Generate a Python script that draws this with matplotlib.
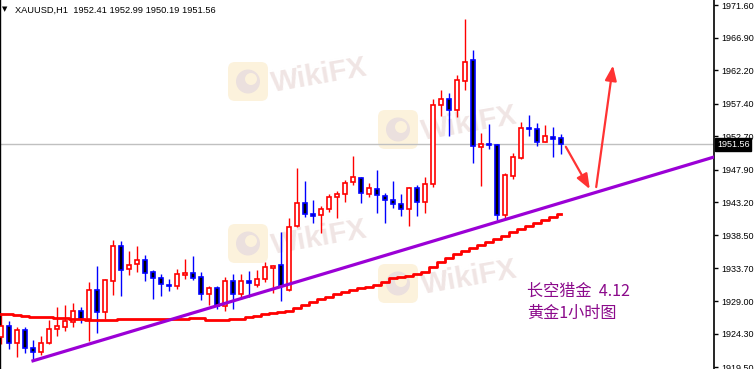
import numpy as np
import matplotlib
matplotlib.use('Agg')
import matplotlib.pyplot as plt
import matplotlib.transforms as mtransforms
from matplotlib.patches import FancyBboxPatch, Circle

# hourly candles, XAUUSD H1 (open, high, low, close)
opens = [1923.8, 1925.4, 1923.0, 1924.8, 1922.2, 1921.7, 1923.0, 1925.0, 1925.3, 1926.0,
         1927.6, 1926.4, 1930.6, 1927.4, 1931.9, 1936.9, 1933.6, 1934.3, 1934.9, 1933.2,
         1932.3, 1931.3, 1931.2, 1932.7, 1933.0, 1932.5, 1930.0, 1930.9, 1928.3, 1931.9,
         1930.0, 1931.9, 1931.3, 1932.2, 1933.8, 1934.2, 1930.6, 1939.8, 1943.1, 1941.5,
         1941.4, 1942.2, 1944.0, 1944.4, 1946.1, 1946.7, 1944.4, 1945.1, 1944.1, 1943.5,
         1943.0, 1942.2, 1945.3, 1943.3, 1945.8, 1957.2, 1958.1, 1956.5, 1960.7, 1963.7,
         1951.2, 1951.6, 1951.5, 1941.4, 1947.0, 1949.6, 1953.9, 1953.8, 1951.9, 1952.6,
         1952.41]
highs = [1927.3, 1926.1, 1925.3, 1925.3, 1923.4, 1924.0, 1926.3, 1928.1, 1928.4, 1928.7,
         1928.1, 1931.7, 1934.0, 1932.2, 1937.8, 1937.6, 1936.2, 1936.9, 1935.6, 1933.5,
         1932.9, 1932.2, 1933.6, 1935.1, 1935.5, 1933.2, 1931.2, 1931.2, 1932.5, 1932.9,
         1932.9, 1933.3, 1933.5, 1934.6, 1934.2, 1938.9, 1940.9, 1948.1, 1946.3, 1943.5,
         1942.7, 1944.4, 1944.8, 1946.4, 1949.9, 1946.9, 1946.0, 1947.9, 1944.5, 1946.3,
         1944.4, 1945.4, 1945.7, 1946.9, 1958.1, 1959.4, 1958.9, 1961.5, 1969.6, 1965.1,
         1953.2, 1954.5, 1951.6, 1947.4, 1950.3, 1954.8, 1955.8, 1954.6, 1954.3, 1954.1,
         1952.99]
lows = [1922.8, 1922.1, 1921.0, 1921.5, 1920.5, 1921.2, 1922.8, 1924.0, 1924.7, 1925.3,
        1925.8, 1923.2, 1924.4, 1926.4, 1929.9, 1929.7, 1932.7, 1933.2, 1931.9, 1929.3,
        1929.7, 1930.4, 1930.7, 1932.2, 1932.0, 1929.2, 1928.4, 1927.9, 1927.6, 1927.9,
        1929.3, 1929.6, 1931.0, 1931.7, 1930.2, 1929.0, 1930.4, 1939.7, 1941.1, 1940.2,
        1938.8, 1941.8, 1940.9, 1943.3, 1945.7, 1943.1, 1944.0, 1941.7, 1940.2, 1942.4,
        1941.2, 1939.8, 1941.2, 1941.7, 1945.4, 1955.6, 1952.8, 1955.5, 1959.4, 1948.9,
        1945.6, 1950.9, 1940.7, 1940.8, 1946.6, 1949.4, 1952.8, 1951.3, 1951.9, 1949.7,
        1950.19]
closes = [1925.4, 1923.0, 1924.8, 1922.2, 1921.7, 1923.0, 1925.0, 1925.4, 1926.1, 1927.6,
          1926.4, 1930.6, 1927.4, 1932.0, 1936.9, 1933.5, 1934.2, 1934.9, 1933.0, 1932.3,
          1931.5, 1931.2, 1932.9, 1933.0, 1932.3, 1930.0, 1930.9, 1928.3, 1931.9, 1930.0,
          1931.9, 1931.6, 1932.2, 1933.9, 1934.0, 1931.2, 1939.7, 1943.1, 1941.5, 1941.2,
          1942.2, 1944.0, 1944.4, 1946.0, 1946.9, 1944.5, 1945.3, 1944.3, 1943.5, 1943.0,
          1942.2, 1945.3, 1943.3, 1945.8, 1957.2, 1958.1, 1956.5, 1960.8, 1963.4, 1951.3,
          1951.6, 1951.5, 1941.4, 1947.1, 1949.7, 1953.9, 1953.8, 1951.9, 1952.8, 1952.3,
          1951.56]

# red moving average, one value per candle
ma = [1927.1, 1927.1, 1927.0, 1926.9, 1926.7, 1926.7, 1926.7, 1926.6, 1926.6, 1926.4,
      1926.4, 1926.3, 1926.3, 1926.3, 1926.3, 1926.4, 1926.4, 1926.4, 1926.4, 1926.4,
      1926.4, 1926.4, 1926.4, 1926.4, 1926.6, 1926.6, 1926.3, 1926.3, 1926.3, 1926.4,
      1926.4, 1926.7, 1926.9, 1927.1, 1927.3, 1927.4, 1927.6, 1928.0, 1928.4, 1928.9,
      1929.3, 1929.6, 1930.0, 1930.3, 1930.6, 1930.9, 1931.0, 1931.3, 1931.7, 1932.3,
      1932.5, 1932.6, 1932.9, 1933.2, 1933.9, 1934.6, 1935.2, 1935.8, 1936.2, 1936.6,
      1937.1, 1937.5, 1937.9, 1938.4, 1939.0, 1939.4, 1939.8, 1940.2, 1940.7, 1941.1,
      1941.5]

# purple support line (candle index, price)
trend_x = [4, 89.2]
trend_y = [1920.4, 1949.75]

# the two red arrows (candle index, price)
arrow1 = [(70.6, 1951.2), (73.6, 1945.1)]
arrow2 = [(74.4, 1945.4), (76.5, 1962.9)]

ytick_vals = [1971.60, 1966.90, 1962.20, 1957.40, 1952.70, 1947.90,
              1943.20, 1938.50, 1933.70, 1929.00, 1924.30, 1919.50]
last_price = 1951.56
title = 'XAUUSD,H1  1952.41 1952.99 1950.19 1951.56'
note_lines = ['长空猎金  4.12', '黄金1小时图']

W, H = 754, 369
plt.rcParams['font.family'] = ['Liberation Sans', 'DejaVu Sans']

fig = plt.figure(figsize=(W / 100, H / 100), dpi=100)
ax = fig.add_axes([0, 0, 714 / W, 1])
ax.patch.set_alpha(0)
ax.set_xlim(-0.125, 89.125)
ax.set_ylim(1919.22, 1972.32)


def watermark(px, py):
    # px, py: top-left of the logo square in image pixels
    pix = mtransforms.IdentityTransform()
    box = FancyBboxPatch((px, H - py - 39), 40, 39,
                         boxstyle='round,pad=0,rounding_size=7',
                         fc='#fcf2dc', ec='none', transform=pix, zorder=-3)
    fig.add_artist(box)
    fig.add_artist(Circle((px + 20, H - py - 19.5), 12, fc='#ebe0de', ec='none',
                          transform=pix, zorder=-2))
    fig.add_artist(Circle((px + 23, H - py - 17), 6, fc='#fcf2dc', ec='none',
                          transform=pix, zorder=-2))
    fig.text((px + 46) / W, 1 - (py + 36) / H, 'WikiFX', ha='left', va='bottom',
             fontsize=21, fontweight='bold', color='#f0e5e4', rotation=10,
             rotation_mode='anchor', zorder=-2)


# faint watermarks behind everything
for wx, wy in [(228, 62), (378, 110), (228, 224), (378, 264)]:
    watermark(wx, wy)

ax.axhline(last_price, color='#c0c0c0', lw=1, zorder=1)

x = np.arange(len(opens))
o = np.array(opens)
c = np.array(closes)
h = np.array(highs)
l = np.array(lows)
up = c >= o

# wicks
ax.vlines(x[up], l[up], h[up], color='#ff0000', lw=1, zorder=2)
ax.vlines(x[~up], l[~up], h[~up], color='#0000ff', lw=1, zorder=2)

# bodies
body_w = 0.56
bottoms = np.minimum(o, c)
heights = np.maximum(np.abs(c - o), 0.08)
ax.bar(x[up], heights[up], body_w, bottom=bottoms[up], color='white',
       edgecolor='#ff0000', linewidth=1.2, zorder=3)
ax.bar(x[~up], heights[~up], body_w, bottom=bottoms[~up], color='black',
       edgecolor='#0000ff', linewidth=1.2, zorder=3)

ax.plot(x, ma, color='#ff0000', lw=2.0, zorder=4, drawstyle='steps-mid')
ax.plot(trend_x, trend_y, color='#9b00d6', lw=2.3, zorder=4)

for (x0, y0), (x1, y1) in [arrow1, arrow2]:
    ax.annotate('', xy=(x1, y1), xytext=(x0, y0),
                arrowprops=dict(arrowstyle='-|>,head_length=0.9,head_width=0.35',
                                color='#ff3333', lw=1.6, shrinkA=0, shrinkB=0),
                zorder=5)

ax.text(15 / 714, 0.985, title, transform=ax.transAxes, ha='left', va='top',
        fontsize=6.7, color='black')
ax.text(2 / 714, 0.983, '▼', transform=ax.transAxes, ha='left', va='top',
        fontsize=5, color='black', family='DejaVu Sans')

ax.text(527 / 714, 0.210, note_lines[0], transform=ax.transAxes, ha='left', va='center',
        fontsize=11.6, color='#8b0a8b', family=['Noto Sans CJK SC', 'DejaVu Sans'])
ax.text(527 / 714, 0.150, note_lines[1], transform=ax.transAxes, ha='left', va='center',
        fontsize=11.6, color='#8b0a8b', family=['Noto Sans CJK SC', 'DejaVu Sans'])

# right price scale
ax.yaxis.tick_right()
ax.set_yticks(ytick_vals)
ax.set_yticklabels(['%.2f' % v for v in ytick_vals])
ax.tick_params(axis='y', direction='out', length=3, width=1, pad=2,
               labelsize=6.5, colors='black')
ax.set_xticks([])
for side in ['top', 'bottom']:
    ax.spines[side].set_visible(False)
ax.spines['right'].set_linewidth(1.2)
ax.spines['left'].set_linewidth(1.0)

trans = mtransforms.blended_transform_factory(ax.transAxes, ax.transData)
ax.text(1.004, last_price, '%.2f' % last_price, transform=trans, ha='left', va='center',
        fontsize=6.5, color='white', zorder=6,
        bbox=dict(boxstyle='square,pad=0.2', fc='black', ec='black'))

fig.savefig('out.png', dpi=100)
